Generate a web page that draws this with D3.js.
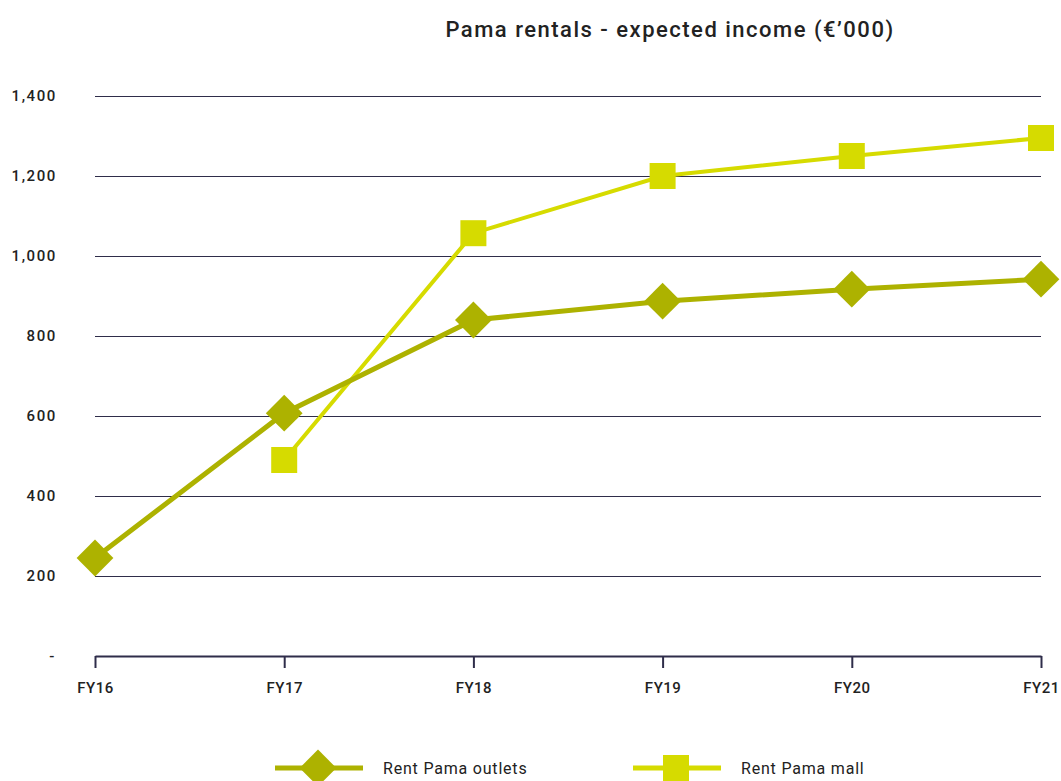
<!DOCTYPE html>
<html lang="en">
<head>
    <meta charset="UTF-8">
    <title>Pama rentals - expected income</title>
    <script src="https://d3js.org/d3.v7.min.js"></script>
    <style>
        body { margin: 0; background: #fff; }
        svg { display: block; }
        text { font-family: Roboto, "Open Sans", sans-serif; fill: #222; }
    </style>
</head>
<body>
    <svg id="chart" width="1061" height="781"></svg>
    <script>
        // Chart data
        const years = ["FY16", "FY17", "FY18", "FY19", "FY20", "FY21"];
        const outlets = [245, 607, 840, 887, 917, 942];
        const mall = [null, 490, 1057, 1200, 1250, 1295];
        const yTicks = [0, 200, 400, 600, 800, 1000, 1200, 1400];

        const outletColor = "#adb200";
        const mallColor = "#d6db00";
        const gridColor = "#2f2d4a";

        const svg = d3.select("#chart");

        const x = d3.scalePoint().domain(years).range([95, 1041]);
        const y = d3.scaleLinear().domain([0, 1400]).range([656, 96]);

        // Title
        svg.append("text")
            .attr("x", 670)
            .attr("y", 37)
            .attr("text-anchor", "middle")
            .attr("font-size", "22px")
            .attr("font-weight", 500)
            .attr("letter-spacing", "1.5px")
            .text("Pama rentals - expected income (€’000)");

        // Horizontal gridlines
        svg.append("g")
            .selectAll("line")
            .data(yTicks.filter(d => d > 0))
            .join("line")
            .attr("x1", 95)
            .attr("x2", 1041)
            .attr("y1", d => y(d) + 0.5)
            .attr("y2", d => y(d) + 0.5)
            .attr("stroke", gridColor)
            .attr("stroke-width", 1);

        // Y labels
        svg.append("g")
            .selectAll("text")
            .data(yTicks)
            .join("text")
            .attr("x", d => d === 0 ? 56 : 57)
            .attr("y", d => y(d) + 5)
            .attr("text-anchor", "end")
            .attr("font-size", "15px")
            .attr("font-weight", 500)
            .attr("letter-spacing", "1.6px")
            .text(d => d === 0 ? "-" : d3.format(",")(d));

        // Bottom axis
        const xAxis = svg.append("g")
            .attr("transform", `translate(0,${y(0)})`)
            .call(d3.axisBottom(x).tickSize(12).tickSizeOuter(0).tickPadding(14));
        xAxis.select(".domain").attr("stroke", gridColor).attr("stroke-width", 2);
        xAxis.selectAll(".tick line").attr("stroke", gridColor).attr("stroke-width", 2);
        xAxis.selectAll(".tick text")
            .attr("font-size", "15px")
            .attr("font-weight", 500)
            .attr("letter-spacing", "0.5px")
            .attr("fill", "#222")
            .attr("font-family", "Roboto, sans-serif");

        const marker = d3.symbol().type(d3.symbolSquare).size(26 * 26);

        // Mall line
        const mallPts = years.map((yr, i) => ({ yr, v: mall[i] })).filter(d => d.v != null);
        svg.append("path")
            .datum(mallPts)
            .attr("fill", "none")
            .attr("stroke", mallColor)
            .attr("stroke-width", 4)
            .attr("d", d3.line().x(d => x(d.yr)).y(d => y(d.v)));

        // Outlets line
        const outPts = years.map((yr, i) => ({ yr, v: outlets[i] }));
        svg.append("path")
            .datum(outPts)
            .attr("fill", "none")
            .attr("stroke", outletColor)
            .attr("stroke-width", 5)
            .attr("d", d3.line().x(d => x(d.yr)).y(d => y(d.v)));

        svg.append("g")
            .selectAll("path")
            .data(mallPts)
            .join("path")
            .attr("transform", d => `translate(${x(d.yr)},${y(d.v)})`)
            .attr("d", marker)
            .attr("fill", mallColor);

        svg.append("g")
            .selectAll("path")
            .data(outPts)
            .join("path")
            .attr("transform", d => `translate(${x(d.yr)},${y(d.v)}) rotate(45)`)
            .attr("d", marker)
            .attr("fill", outletColor);

        // Legend
        const legend = [
            { name: "Rent Pama outlets", color: outletColor, x: 275, diamond: true },
            { name: "Rent Pama mall", color: mallColor, x: 633, diamond: false }
        ];
        const lg = svg.append("g").selectAll("g").data(legend).join("g")
            .attr("transform", d => `translate(${d.x},768)`);
        lg.append("line")
            .attr("x1", 0).attr("x2", 88)
            .attr("stroke", d => d.color)
            .attr("stroke-width", 5);
        lg.append("path")
            .attr("transform", d => d.diamond ? "translate(43,0) rotate(45)" : "translate(43,0)")
            .attr("d", marker)
            .attr("fill", d => d.color);
        lg.append("text")
            .attr("x", 108)
            .attr("y", 6)
            .attr("font-size", "16px")
            .attr("letter-spacing", "0.8px")
            .text(d => d.name);
    </script>
</body>
</html>
